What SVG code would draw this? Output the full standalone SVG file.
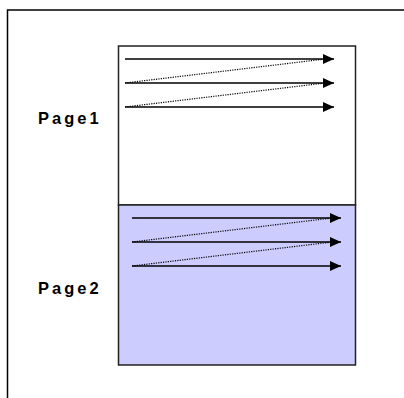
<svg xmlns="http://www.w3.org/2000/svg" width="404" height="398" viewBox="0 0 404 398">
<style>
.frame{fill:none;stroke:#000;stroke-width:1.5}
.page{stroke:#222;stroke-width:1.5}
.arr{stroke:#000;stroke-width:1.3;fill:none}
.dot{stroke:#000;stroke-width:1.2;stroke-dasharray:1.2 1.2;fill:none}
.lbl{font-family:"Liberation Sans",Arial,sans-serif;font-weight:bold;font-size:16.5px;letter-spacing:3px;fill:#000}
</style>
<defs>
<marker id="ah" markerWidth="11" markerHeight="10" refX="11" refY="5" orient="auto" markerUnits="userSpaceOnUse">
<path d="M0,0 L11,5 L0,10 Z" fill="#000"/>
</marker>
</defs>
<path class="frame" d="M7.5,398 V10 H404"/>
<g id="page1">
<rect class="page" x="118.5" y="46" width="237" height="159" fill="#fff"/>
<text class="lbl" x="38" y="124">Page1</text>
</g>
<g id="page2">
<rect class="page" x="118.5" y="205" width="237" height="160" fill="#ccccff"/>
<text class="lbl" x="38" y="294">Page2</text>
</g>
<g id="connectors">
<line class="arr" x1="125" y1="59" x2="334" y2="59" marker-end="url(#ah)"/>
<line class="arr" x1="125" y1="83" x2="334" y2="83" marker-end="url(#ah)"/>
<line class="arr" x1="125" y1="107" x2="334" y2="107" marker-end="url(#ah)"/>
<line class="dot" x1="125" y1="83" x2="325" y2="59"/>
<line class="dot" x1="125" y1="107" x2="325" y2="83"/>
<line class="arr" x1="132" y1="218" x2="341" y2="218" marker-end="url(#ah)"/>
<line class="arr" x1="132" y1="242" x2="341" y2="242" marker-end="url(#ah)"/>
<line class="arr" x1="132" y1="266" x2="341" y2="266" marker-end="url(#ah)"/>
<line class="dot" x1="132" y1="242" x2="332" y2="218"/>
<line class="dot" x1="132" y1="266" x2="332" y2="242"/>
</g>
</svg>
